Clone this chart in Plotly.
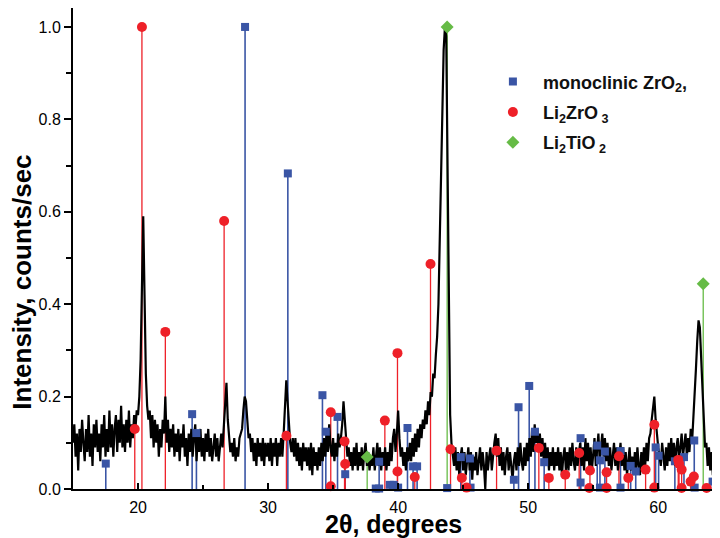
import plotly.graph_objects as go

# ---- measured XRD pattern (2theta from 15.0 step 0.1) ----
two_theta_start = 15.0
two_theta_step = 0.1
intensity = [
    0.10, 0.14, 0.07, 0.12, 0.04, 0.13, 0.08, 0.15, 0.10, 0.06,  # 15
    0.13, 0.08, 0.16, 0.07, 0.12, 0.05, 0.14, 0.09, 0.15, 0.08,  # 16
    0.12, 0.06, 0.14, 0.09, 0.16, 0.07, 0.13, 0.08, 0.17, 0.09,  # 17
    0.14, 0.07, 0.13, 0.16, 0.08, 0.15, 0.10, 0.18, 0.09, 0.14,  # 18
    0.08, 0.15, 0.10, 0.17, 0.09, 0.14, 0.11, 0.16, 0.13, 0.17,  # 19
    0.16, 0.20, 0.28, 0.45, 0.59, 0.42, 0.25, 0.18, 0.15, 0.17,  # 20
    0.11, 0.16, 0.09, 0.15, 0.10, 0.14, 0.07, 0.13, 0.09, 0.15,  # 21
    0.12, 0.20, 0.10, 0.15, 0.08, 0.13, 0.09, 0.14, 0.07, 0.12,  # 22
    0.08, 0.13, 0.06, 0.12, 0.09, 0.14, 0.07, 0.11, 0.05, 0.12,  # 23
    0.08, 0.13, 0.07, 0.11, 0.14, 0.06, 0.12, 0.08, 0.13, 0.07,  # 24
    0.11, 0.06, 0.12, 0.08, 0.13, 0.07, 0.11, 0.06, 0.10, 0.12,  # 25
    0.07, 0.11, 0.06, 0.10, 0.12, 0.09, 0.13, 0.17, 0.23, 0.15,  # 26
    0.11, 0.08, 0.10, 0.07, 0.11, 0.06, 0.09, 0.07, 0.11, 0.12,  # 27
    0.13, 0.17, 0.20, 0.19, 0.14, 0.11, 0.12, 0.08, 0.11, 0.06,  # 28
    0.10, 0.05, 0.11, 0.07, 0.10, 0.06, 0.11, 0.05, 0.10, 0.07,  # 29
    0.10, 0.06, 0.11, 0.05, 0.10, 0.07, 0.11, 0.05, 0.10, 0.07,  # 30
    0.11, 0.07, 0.12, 0.17, 0.235, 0.19, 0.13, 0.10, 0.08, 0.11,  # 31
    0.07, 0.11, 0.06, 0.10, 0.05, 0.09, 0.04, 0.10, 0.06, 0.09,  # 32
    0.05, 0.09, 0.04, 0.10, 0.03, 0.09, 0.05, 0.08, 0.04, 0.09,  # 33
    0.05, 0.10, 0.06, 0.11, 0.07, 0.12, 0.08, 0.14, 0.09, 0.07,  # 34
    0.11, 0.06, 0.10, 0.07, 0.12, 0.09, 0.11, 0.14, 0.19, 0.15,  # 35
    0.10, 0.07, 0.09, 0.05, 0.08, 0.04, 0.09, 0.05, 0.10, 0.04,  # 36
    0.08, 0.05, 0.09, 0.04, 0.08, 0.10, 0.05, 0.08, 0.04, 0.07,  # 37
    0.05, 0.09, 0.04, 0.08, 0.10, 0.05, 0.09, 0.04, 0.08, 0.05,  # 38
    0.09, 0.04, 0.08, 0.05, 0.10, 0.06, 0.11, 0.13, 0.08, 0.12,  # 39
    0.17, 0.11, 0.07, 0.09, 0.05, 0.08, 0.04, 0.09, 0.06, 0.10,  # 40
    0.06, 0.11, 0.07, 0.12, 0.08, 0.13, 0.09, 0.14, 0.11, 0.15,  # 41
    0.13, 0.17, 0.14, 0.19, 0.16, 0.21, 0.20, 0.25, 0.24, 0.29,  # 42
    0.33, 0.40, 0.55, 0.72, 0.88, 0.95, 1.00, 0.98, 0.70, 0.35,  # 43
    0.16, 0.10, 0.07, 0.05, 0.09, 0.04, 0.08, 0.03, 0.07, 0.09,  # 44
    0.04, 0.08, 0.03, 0.07, 0.09, 0.04, 0.08, 0.02, 0.07, 0.04,  # 45
    0.08, 0.03, 0.07, 0.09, 0.04, 0.08, 0.05, 0.00, 0.08, 0.04,  # 46
    0.07, 0.09, 0.04, 0.08, 0.10, 0.12, 0.07, 0.11, 0.05, 0.09,  # 47
    0.04, 0.08, 0.03, 0.07, 0.09, 0.04, 0.08, 0.05, 0.02, 0.06,  # 48
    0.08, 0.04, 0.09, 0.05, 0.10, 0.06, 0.04, 0.09, 0.05, 0.10,  # 49
    0.06, 0.11, 0.07, 0.13, 0.08, 0.14, 0.10, 0.13, 0.08, 0.12,  # 50
    0.07, 0.11, 0.06, 0.10, 0.05, 0.09, 0.04, 0.08, 0.05, 0.09,  # 51
    0.04, 0.08, 0.05, 0.09, 0.04, 0.08, 0.03, 0.07, 0.09, 0.04,  # 52
    0.08, 0.04, 0.09, 0.05, 0.10, 0.06, 0.04, 0.09, 0.05, 0.08,  # 53
    0.10, 0.05, 0.09, 0.04, 0.11, 0.06, 0.10, 0.05, 0.09, 0.04,  # 54
    0.08, 0.11, 0.05, 0.09, 0.12, 0.06, 0.10, 0.12, 0.07, 0.11,  # 55
    0.06, 0.10, 0.05, 0.09, 0.04, 0.08, 0.10, 0.05, 0.09, 0.04,  # 56
    0.08, 0.10, 0.05, 0.09, 0.04, 0.08, 0.03, 0.07, 0.09, 0.04,  # 57
    0.07, 0.03, 0.08, 0.04, 0.09, 0.05, 0.03, 0.08, 0.04, 0.09,  # 58
    0.05, 0.10, 0.06, 0.11, 0.12, 0.15, 0.17, 0.20, 0.15, 0.11,  # 59
    0.09, 0.07, 0.05, 0.10, 0.06, 0.04, 0.09, 0.05, 0.10, 0.06,  # 60
    0.11, 0.06, 0.10, 0.05, 0.09, 0.11, 0.06, 0.10, 0.12, 0.07,  # 61
    0.10, 0.12, 0.07, 0.11, 0.08, 0.13, 0.10, 0.15, 0.19, 0.26,  # 62
    0.32, 0.365, 0.35, 0.28, 0.19, 0.12, 0.09, 0.10, 0.05, 0.09,  # 63
    0.04, 0.08, 0.03, 0.07, 0.02, 0.06, 0.08, 0.03, 0.07, 0.04,  # 64
]
two_theta = [round(two_theta_start + i * two_theta_step, 1) for i in range(len(intensity))]

# ---- reference stick patterns ----
zro2_pos = [17.52, 24.16, 24.49, 28.23, 31.52, 34.18, 34.44, 35.34, 35.93, 38.28,
            38.54, 38.54, 39.36, 39.67, 40.0, 40.72, 41.15, 41.46, 43.77, 44.82,
            45.52, 45.57, 48.9, 49.26, 50.08, 50.52, 51.23, 54.03, 54.03, 55.31,
            55.52, 55.52, 55.9, 57.1, 57.1, 57.88, 58.27, 59.8, 60.03, 61.28,
            61.98, 62.77, 62.8, 64.18, 64.5]
zro2_int = [0.055, 0.162, 0.121, 1.0, 0.683, 0.203, 0.124, 0.156, 0.032, 0.001,
            0.059, 0.001, 0.009, 0.009, 0.003, 0.132, 0.049, 0.049, 0.002, 0.069,
            0.066, 0.003, 0.02, 0.177, 0.223, 0.124, 0.058, 0.110, 0.014, 0.094,
            0.062, 0.003, 0.081, 0.082, 0.003, 0.050, 0.038, 0.090, 0.072, 0.060,
            0.069, 0.105, 0.003, 0.016, 0.02]

li2zro3_pos = [19.75, 20.3, 22.1, 26.62, 31.41, 34.82, 34.82, 35.88, 35.93, 38.98,
               39.95, 39.95, 41.28, 42.49, 44.03, 44.9, 45.26, 47.57, 50.82, 51.59,
               52.85, 53.92, 54.75, 54.7, 56.03, 56.03, 56.98, 57.7, 59.03, 59.7,
               59.7, 61.54, 61.6, 61.8, 61.8, 62.49, 62.74, 63.72, 64.49]
li2zro3_int = [0.13, 1.0, 0.34, 0.58, 0.115, 0.166, 0.006, 0.103, 0.054, 0.148,
               0.294, 0.038, 0.026, 0.487, 0.086, 0.024, 0.003, 0.083, 0.089, 0.024,
               0.031, 0.078, 0.040, 0.002, 0.036, 0.002, 0.071, 0.024, 0.042, 0.139,
               0.003, 0.063, 0.055, 0.042, 0.002, 0.016, 0.027, 0.002, 0.002]

li2tio2_pos = [37.62, 43.77, 63.46]
li2tio2_int = [0.069, 1.0, 0.444]

x_ticks = [20, 30, 40, 50, 60]
y_ticks = [0.0, 0.2, 0.4, 0.6, 0.8, 1.0]

BLUE = "#3A55A5"
RED = "#EE2028"
GREEN = "#66BB46"


def stems(pos, val):
    xs, ys = [], []
    for p, v in zip(pos, val):
        xs += [p, p, None]
        ys += [0, v, None]
    return xs, ys


fig = go.Figure()

for pos, val, col, w in [(zro2_pos, zro2_int, BLUE, 1.6),
                         (li2zro3_pos, li2zro3_int, RED, 1.3),
                         (li2tio2_pos, li2tio2_int, GREEN, 1.3)]:
    sx, sy = stems(pos, val)
    fig.add_trace(go.Scatter(x=sx, y=sy, mode="lines", line=dict(color=col, width=w),
                             showlegend=False, hoverinfo="skip"))

fig.add_trace(go.Scatter(x=two_theta, y=intensity, mode="lines",
                         line=dict(color="black", width=2.2), showlegend=False))

fig.add_trace(go.Scatter(x=zro2_pos, y=zro2_int, mode="markers", cliponaxis=False,
                         marker=dict(symbol="square", size=8, color=BLUE),
                         name="&nbsp;&nbsp;<b>monoclinic ZrO<sub>2</sub>,</b>", legendgroup="a"))
fig.add_trace(go.Scatter(x=li2zro3_pos, y=li2zro3_int, mode="markers", cliponaxis=False,
                         marker=dict(symbol="circle", size=10, color=RED),
                         name="&nbsp;&nbsp;<b>Li<sub>2</sub>ZrO<sub> 3</sub></b>", legendgroup="b"))
fig.add_trace(go.Scatter(x=li2tio2_pos, y=li2tio2_int, mode="markers", cliponaxis=False,
                         marker=dict(symbol="diamond", size=10, color=GREEN),
                         name="&nbsp;&nbsp;<b>Li<sub>2</sub>TiO<sub> 2</sub></b>", legendgroup="c"))

# page body adds an 8 px offset: figure is 712x530 placed at (8, 8)
fig.update_layout(
    width=712, height=530,
    margin=dict(l=65, r=0, t=0, b=49),
    plot_bgcolor="white", paper_bgcolor="white",
    font=dict(family="Liberation Sans, Arial, sans-serif", color="black", size=16),
    legend=dict(x=0.649, y=0.885, xanchor="left", yanchor="top",
                font=dict(size=18, color="#111"), tracegroupgap=4,
                bgcolor="rgba(0,0,0,0)", itemwidth=30),
    xaxis=dict(range=[15, 64.75], tickvals=x_ticks, ticks="inside", ticklen=6,
               tickcolor="black", tickwidth=1.5, automargin=False,
               minor=dict(dtick=5, ticks="inside", ticklen=4, tickcolor="black", tickwidth=1.5),
               showline=True, linecolor="black", linewidth=2, showgrid=False, zeroline=False,
               tickfont=dict(size=16), ticklabelstandoff=3),
    yaxis=dict(range=[0, 1.041], tickvals=y_ticks, tickformat=".1f", ticks="outside",
               ticklen=7, tickcolor="black", tickwidth=1.5, automargin=False,
               minor=dict(dtick=0.1, ticks="outside", ticklen=5, tickcolor="black", tickwidth=1.5),
               showline=True, linecolor="black", linewidth=2, showgrid=False, zeroline=False,
               tickfont=dict(size=16)),
    annotations=[
        dict(text="<b>Intensity, counts/sec</b>", textangle=-90, xref="paper", yref="paper",
             x=-0.078, y=0.43, xanchor="center", yanchor="middle", showarrow=False,
             font=dict(size=26)),
        dict(text="<b>2θ, degrees</b>", xref="paper", yref="paper",
             x=0.495, y=-0.073, xanchor="center", yanchor="middle", showarrow=False,
             font=dict(size=25)),
    ],
)

fig.write_html("out.html")
